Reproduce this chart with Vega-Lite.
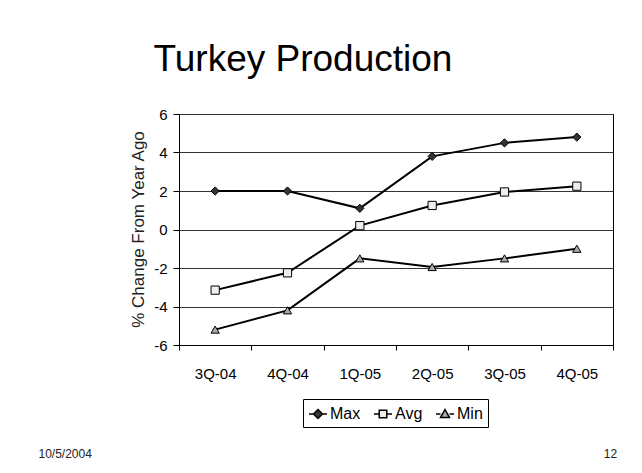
{
  "$schema": "https://vega.github.io/schema/vega-lite/v6.json",
  "width": 434,
  "height": 231,
  "autosize": {"type": "none"},
  "padding": {"left": 179, "top": 114, "right": 29, "bottom": 128},
  "background": "white",
  "title": {
    "text": "Turkey Production",
    "font": "Liberation Sans, Arial, sans-serif",
    "fontSize": 37,
    "fontWeight": "normal",
    "color": "black",
    "anchor": "middle",
    "frame": "group",
    "dx": -93,
    "dy": 35,
    "offset": 34,
    "baseline": "alphabetic"
  },
  "config": {
    "view": {"stroke": "black", "strokeWidth": 1},
    "font": "Liberation Sans, Arial, sans-serif"
  },
  "data": {
    "values": [
      {"quarter": "3Q-04", "series": "Max", "value": 2.0},
      {"quarter": "4Q-04", "series": "Max", "value": 2.0},
      {"quarter": "1Q-05", "series": "Max", "value": 1.1},
      {"quarter": "2Q-05", "series": "Max", "value": 3.8},
      {"quarter": "3Q-05", "series": "Max", "value": 4.5},
      {"quarter": "4Q-05", "series": "Max", "value": 4.8},
      {"quarter": "3Q-04", "series": "Avg", "value": -3.15},
      {"quarter": "4Q-04", "series": "Avg", "value": -2.25},
      {"quarter": "1Q-05", "series": "Avg", "value": 0.2},
      {"quarter": "2Q-05", "series": "Avg", "value": 1.25},
      {"quarter": "3Q-05", "series": "Avg", "value": 1.95},
      {"quarter": "4Q-05", "series": "Avg", "value": 2.25},
      {"quarter": "3Q-04", "series": "Min", "value": -5.2},
      {"quarter": "4Q-04", "series": "Min", "value": -4.2},
      {"quarter": "1Q-05", "series": "Min", "value": -1.5},
      {"quarter": "2Q-05", "series": "Min", "value": -1.95},
      {"quarter": "3Q-05", "series": "Min", "value": -1.5},
      {"quarter": "4Q-05", "series": "Min", "value": -1.0}
    ]
  },
  "layer": [
    {
      "mark": {"type": "line", "color": "black", "strokeWidth": 2},
      "encoding": {
        "x": {
          "field": "quarter", "type": "ordinal", "sort": null, "bandPosition": 0.5,
          "scale": {"type": "band", "paddingInner": 0, "paddingOuter": 0},
          "axis": {
            "title": "10/5/2004",
            "titleFont": "Liberation Sans, Arial, sans-serif",
            "titleFontSize": 12,
            "titleFontWeight": "normal",
            "titleColor": "#222",
            "titleAnchor": "start",
            "titleAlign": "left",
            "titleBaseline": "middle",
            "titleX": -141,
            "titleY": 108,
            "labelAngle": 0,
            "labelFontSize": 15,
            "labelColor": "black",
            "labelPadding": 16,
            "tickBand": "extent",
            "tickSize": 5,
            "tickColor": "black",
            "domainColor": "black",
            "grid": false
          }
        },
        "y": {
          "field": "value", "type": "quantitative",
          "scale": {"domain": [-6, 6], "nice": false},
          "axis": {
            "values": [-6, -4, -2, 0, 2, 4, 6],
            "labelExpr": "'' + datum.value",
            "grid": true,
            "gridColor": "#333",
            "gridOpacity": 1,
            "tickSize": 6,
            "tickColor": "black",
            "domainColor": "black",
            "labelFontSize": 15,
            "labelColor": "black",
            "labelPadding": 6,
            "title": "% Change From Year Ago",
            "titleFont": "Liberation Sans, Arial, sans-serif",
            "titleFontSize": 17,
            "titleFontWeight": "normal",
            "titleColor": "#222",
            "titleBaseline": "middle",
            "titleX": -41,
            "titleY": 115
          }
        },
        "detail": {"field": "series"}
      }
    },
    {
      "mark": {"type": "point", "filled": true, "stroke": "black", "strokeWidth": 1, "size": 68, "opacity": 1},
      "encoding": {
        "x": {"field": "quarter", "type": "ordinal", "sort": null, "bandPosition": 0.5},
        "y": {"field": "value", "type": "quantitative", "axis": null},
        "shape": {
          "field": "series",
          "scale": {"domain": ["Max", "Avg", "Min"], "range": ["diamond", "square", "triangle-up"]},
          "legend": null
        },
        "fill": {
          "field": "series",
          "scale": {"domain": ["Max", "Avg", "Min"], "range": ["#333333", "#eeeeee", "#aaaaaa"]},
          "legend": null
        }
      }
    },
    {
      "mark": {"type": "point", "filled": true, "stroke": "black", "strokeWidth": 1.5, "opacity": 0},
      "encoding": {
        "x": {"field": "quarter", "type": "ordinal", "sort": null, "bandPosition": 0.5},
        "y": {
          "field": "value", "type": "quantitative",
          "axis": {
            "orient": "right",
            "labels": false,
            "ticks": false,
            "domain": false,
            "grid": false,
            "title": "12",
            "titleAngle": 0,
            "titleFont": "Liberation Sans, Arial, sans-serif",
            "titleFontSize": 12,
            "titleFontWeight": "normal",
            "titleColor": "#222",
            "titleAlign": "center",
            "titleBaseline": "middle",
            "titleX": -3,
            "titleY": 339
          }
        },
        "shape": {
          "field": "series",
          "scale": {
            "domain": ["Max", "Avg", "Min"],
            "range": [
              "M-1,0L-0.5,0M0.5,0L1,0M0,-0.5L0.5,0L0,0.5L-0.5,0Z",
              "M-1,0L-0.42,0M0.42,0L1,0M-0.42,-0.42L0.42,-0.42L0.42,0.42L-0.42,0.42Z",
              "M-1,0L-0.5,0M0.5,0L1,0M0,-0.5L0.5,0.4L-0.5,0.4Z"
            ]
          },
          "legend": {
            "title": null,
            "orient": "none",
            "legendX": 124,
            "legendY": 285,
            "direction": "horizontal",
            "columns": 3,
            "strokeColor": "black",
            "fillColor": "white",
            "padding": 5,
            "symbolSize": 324,
            "symbolOpacity": 1,
            "symbolStrokeWidth": 1.5,
            "labelFontSize": 16,
            "labelColor": "black",
            "labelOffset": 2,
            "columnPadding": 10
          }
        },
        "color": {
          "field": "series",
          "scale": {"domain": ["Max", "Avg", "Min"], "range": ["#333333", "#eeeeee", "#aaaaaa"]},
          "legend": {
            "title": null,
            "orient": "none",
            "legendX": 124,
            "legendY": 285,
            "direction": "horizontal",
            "columns": 3,
            "strokeColor": "black",
            "fillColor": "white",
            "padding": 5,
            "symbolSize": 324,
            "symbolOpacity": 1,
            "symbolStrokeWidth": 1.5,
            "labelFontSize": 16,
            "labelColor": "black",
            "labelOffset": 2,
            "columnPadding": 10
          }
        }
      }
    }
  ],
  "resolve": {
    "axis": {"y": "independent"},
    "scale": {"shape": "independent", "fill": "independent", "color": "independent"}
  }
}
